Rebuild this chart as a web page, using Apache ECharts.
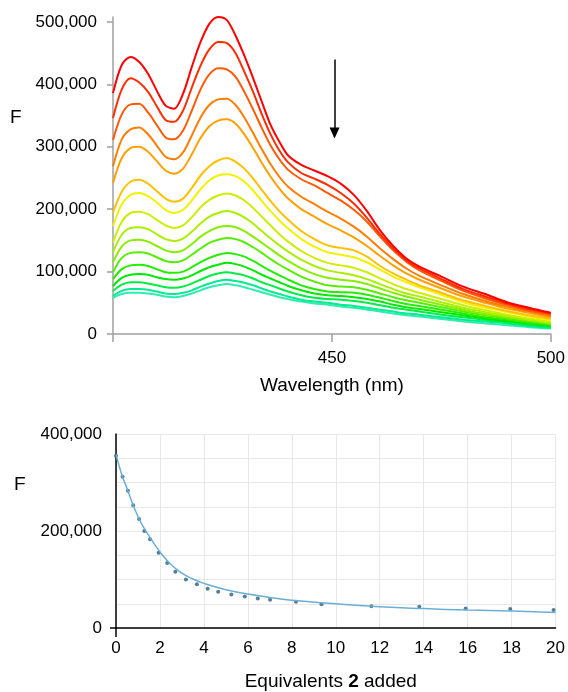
<!DOCTYPE html>
<html lang="en">
<head>
    <meta charset="UTF-8">
    <title>Titration</title>
    <script src="https://cdn.jsdelivr.net/npm/echarts@6/dist/echarts.min.js"></script>
</head>
<body style="margin:0;background:#fff;">
    <div id="main" style="width:568px;height:692px;"></div>
    <script type="text/javascript">
        // emission spectra (values in thousands), one array per titration step
        var wavelength = [400,402,404,406,408,410,412,414,416,418,420,422,424,426,428,430,432,434,436,438,440,443,446,449,452,455,458,461,464,467,470,475,480,485,490,495,500];
        var s01 = [386,431,444,436,417,390,366,361,385,428,468,497,508,503,478,446,410,372,335,308,286,271,262,253,241,223,197,166,141,121,108,92,76,64,51,42,34];
        var s02 = [346,392,410,403,388,365,343,340,358,395,430,456,468,466,450,420,388,352,320,294,275,258,249,239,226,209,186,160,137,118,105,88,72,60,49,40,33];
        var s03 = [311,352,368,369,355,335,315,312,326,358,392,416,426,424,412,388,360,330,302,280,263,248,238,226,214,199,180,156,134,116,102,85,69,57,47,38,31];
        var s04 = [269,312,328,331,320,302,284,280,291,318,347,367,376,377,367,347,322,296,272,252,236,220,208,196,185,172,156,137,120,105,93,78,64,53,44,36,29];
        var s05 = [242,282,298,300,292,277,262,257,265,288,314,333,342,344,337,320,298,274,252,233,217,200,188,176,166,155,141,125,110,97,87,73,60,50,41,34,27];
        var s06 = [195,228,244,247,241,229,217,212,217,234,254,269,278,282,276,265,249,231,213,197,183,165,152,142,138,134,124,109,97,87,78,66,54,45,37,30,24];
        var s07 = [173,208,223,226,221,211,199,194,199,214,232,246,254,256,253,244,230,213,197,182,169,152,140,131,127,123,115,103,92,83,75,63,51,42,35,28,22];
        var s08 = [147,180,194,196,192,183,174,170,174,187,203,215,222,225,222,214,202,188,174,160,148,133,122,114,110,106,99,89,80,72,66,56,46,38,31,25,20];
        var s09 = [131,159,170,171,168,160,152,149,153,164,177,188,194,197,194,187,177,165,153,142,132,119,109,102,98,94,88,80,72,65,60,51,42,35,29,23,18];
        var s10 = [115,140,150,151,148,141,134,131,134,144,156,165,171,173,171,165,156,146,136,126,117,105,96,90,87,85,80,73,66,60,55,47,39,32,27,22,17];
        var s11 = [99,122,130,131,129,123,117,115,118,127,137,146,151,154,152,147,139,130,120,111,103,92,84,78,76,75,71,65,59,54,50,43,36,30,25,20,16];
        var s12 = [88,104,110,111,109,104,99,98,100,107,115,122,127,130,128,124,117,109,101,94,87,78,72,68,67,66,63,58,53,48,45,39,33,27,23,18,14];
        var s13 = [77,90,95,96,95,91,88,87,89,94,101,107,111,114,112,108,102,95,89,83,77,70,65,62,61,59,56,52,47,43,40,35,30,25,21,17,13];
        var s14 = [69,79,83,83,81,78,75,74,76,81,87,93,97,99,97,94,89,83,78,73,68,62,58,56,55,53,50,46,42,39,36,31,27,23,19,15,12];
        var s15 = [61,69,72,72,71,68,65,64,66,70,76,81,85,87,85,82,78,73,68,64,60,55,52,50,47,45,42,39,36,33,31,27,23,20,17,13,10];
        var s16 = [58,64,66,66,65,63,60,59,61,65,70,75,78,80,78,75,71,67,63,59,56,52,49,47,44,42,39,36,33,30,28,24,20,17,14,11,9];
        var spectra = [s01,s02,s03,s04,s05,s06,s07,s08,s09,s10,s11,s12,s13,s14,s15,s16];
        var spectraColors = ['#ff0000','#ff2d00','#ff5a00','#ff7d00','#ffa000','#ffc000','#f2f200','#ccee00','#aaee00','#88ee00','#55ee00','#22ee00','#00e800','#00ec44','#00ec90','#30ecb0'];
        var specYTicks = [0,100000,200000,300000,400000,500000];
        var specXLabels = [450,500];
        var specXTicks = [400,450,500];

        // titration: equivalents of 2 vs F (thousands)
        var equivalents = [0,0.30,0.54,0.78,1.05,1.29,1.55,1.94,2.33,2.70,3.18,3.68,4.17,4.65,5.25,5.86,6.45,7.01,8.19,9.35,11.62,13.8,15.91,17.94,19.91];
        var fObserved = [355,312,283,253,225,200,183,155,134,116,100,90,81,75,69,65,61,58,54,49,45,44,40,39,37];
        var fitEquiv = [0,0.25,0.5,0.75,1,1.25,1.5,2,2.5,3,3.5,4,5,6,7,8,10,12,14,16,18,20];
        var fitF = [358,318,288,257,230,208,190,157,131,113,101,92,79,70,63,57,50,44,40,37,35,32];

        var myChart = echarts.init(document.getElementById('main'));
        var fontFam = 'Liberation Sans, Arial, sans-serif';

        function pairs(xs, ys) {
            return xs.map(function (x, i) { return [x, ys[i] * 1000]; });
        }
        function fmt(v) { return v.toLocaleString('en-US'); }

        var series = [];
        spectra.forEach(function (s, i) {
            series.push({
                type: 'line',
                xAxisIndex: 0, yAxisIndex: 0,
                data: pairs(wavelength, s),
                showSymbol: false,
                smooth: 0.3,
                lineStyle: { width: 2, color: spectraColors[i] },
                itemStyle: { color: spectraColors[i] },
                z: 20 - i
            });
        });
        // arrow
        series[0].markLine = {
            silent: true,
            symbol: ['none', 'triangle'],
            symbolSize: [10, 11],
            label: { show: false },
            lineStyle: { color: '#000', width: 1.5, type: 'solid' },
            data: [[{ coord: [450.6, 440000] }, { coord: [450.6, 322000] }]]
        };

        series.push({
            type: 'line',
            xAxisIndex: 1, yAxisIndex: 1,
            data: pairs(fitEquiv, fitF),
            showSymbol: false,
            smooth: true,
            lineStyle: { width: 1.5, color: '#6aaed6' }
        });
        series.push({
            type: 'scatter',
            xAxisIndex: 1, yAxisIndex: 1,
            data: pairs(equivalents, fObserved),
            symbolSize: 4,
            itemStyle: { color: '#2c5c7c' }
        });

        var gridLine = { color: '#e8e8e8', width: 1 };

        option = {
            animation: false,
            backgroundColor: '#fff',
            textStyle: { fontFamily: fontFam },
            grid: [
                { left: 113, top: 17, width: 440, height: 317 },
                { left: 116, top: 434, width: 444, height: 197 }
            ],
            xAxis: [
                {
                    gridIndex: 0, type: 'value', min: 400, max: 500, interval: 50,
                    axisLine: { lineStyle: { color: '#a0a0a0', width: 1.5 } },
                    axisTick: { show: true, length: 8, customValues: specXTicks, lineStyle: { color: '#a0a0a0', width: 1.5 } },
                    axisLabel: { customValues: specXLabels, fontSize: 17, color: '#000', margin: 16, fontFamily: fontFam },
                    splitLine: { show: false },
                    name: 'Wavelength (nm)', nameLocation: 'middle', nameGap: 42,
                    nameTextStyle: { fontSize: 19, color: '#000', fontFamily: fontFam }
                },
                {
                    gridIndex: 1, type: 'value', position: 'bottom', min: 0, max: 20, interval: 2,
                    axisLine: { onZero: false, lineStyle: { color: '#000', width: 1.5 } },
                    axisTick: { show: false },
                    axisLabel: { fontSize: 17, color: '#000', margin: 12, fontFamily: fontFam },
                    splitLine: { show: true, lineStyle: gridLine },
                    name: 'Equivalents {b|2} added', nameLocation: 'middle', nameGap: 44,
                    nameTextStyle: {
                        fontSize: 19, color: '#000', fontFamily: fontFam, padding: [0, 10, 0, 0],
                        rich: { b: { fontSize: 19, fontWeight: 'bold', color: '#000', fontFamily: fontFam } }
                    }
                },
                {
                    // only the small downward stub of the y axis below the origin
                    gridIndex: 1, type: 'value', position: 'bottom', min: 0, max: 20,
                    axisLine: { show: false, onZero: false },
                    axisTick: { show: true, length: 9, customValues: [0], lineStyle: { color: '#000', width: 1.5 } },
                    axisLabel: { show: false },
                    splitLine: { show: false }
                }
            ],
            yAxis: [
                {
                    gridIndex: 0, type: 'value', min: 0, max: 508000, interval: 100000,
                    axisLine: { show: true, lineStyle: { color: '#a0a0a0', width: 1.5 } },
                    axisTick: { show: true, length: 6, customValues: specYTicks, lineStyle: { color: '#a0a0a0', width: 1.5 } },
                    axisLabel: { customValues: specYTicks, fontSize: 17, color: '#000', margin: 16, formatter: fmt, fontFamily: fontFam },
                    splitLine: { show: false }
                },
                {
                    gridIndex: 1, type: 'value', position: 'left', min: 0, max: 400000, interval: 200000,
                    axisLine: { show: true, onZero: false, lineStyle: { color: '#000', width: 1.5 } },
                    axisTick: { show: false },
                    axisLabel: { fontSize: 17, color: '#000', margin: 14, formatter: fmt, fontFamily: fontFam },
                    splitLine: { show: true, lineStyle: gridLine },
                    minorTick: { show: false, splitNumber: 4 },
                    minorSplitLine: { show: true, lineStyle: gridLine }
                },
                {
                    // small leftward stub of the x axis at the origin
                    gridIndex: 1, type: 'value', position: 'left', min: 0, max: 400000,
                    axisLine: { show: false, onZero: false },
                    axisTick: { show: true, length: 6, customValues: [0], lineStyle: { color: '#000', width: 1.5 } },
                    axisLabel: { show: false },
                    splitLine: { show: false }
                }
            ],
            graphic: [
                { type: 'text', left: 10, top: 108, style: { text: 'F', fontSize: 19, fill: '#000', fontFamily: fontFam } },
                { type: 'text', left: 14, top: 475, style: { text: 'F', fontSize: 19, fill: '#000', fontFamily: fontFam } }
            ],
            series: series
        };

        myChart.setOption(option);
    </script>
</body>
</html>
